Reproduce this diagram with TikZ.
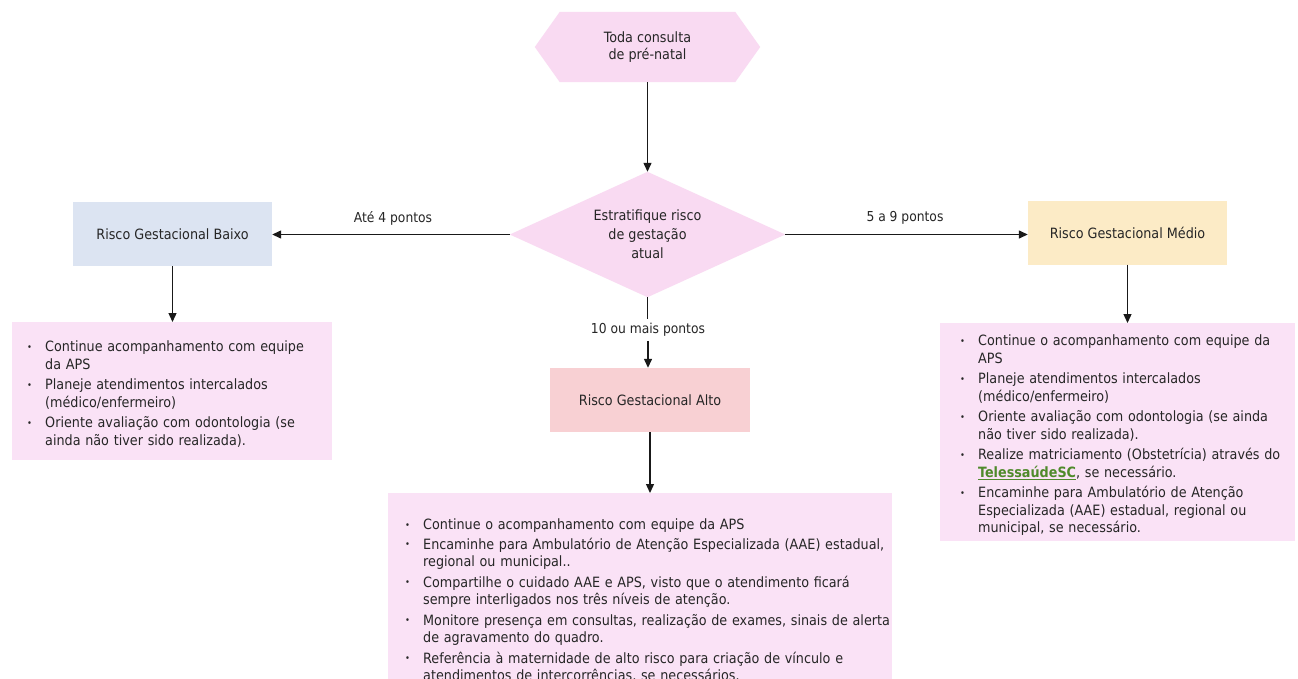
\documentclass[tikz,border=0pt]{standalone}
\usepackage{fontspec}
\usepackage{graphicx}
\setmainfont{DejaVu Sans Condensed}
\usetikzlibrary{arrows.meta,backgrounds}

\definecolor{shapepink}{HTML}{F9DAF2}
\definecolor{listpink}{HTML}{FAE2F6}
\definecolor{lowblue}{HTML}{DCE4F2}
\definecolor{midyellow}{HTML}{FCEBC6}
\definecolor{highrose}{HTML}{F8D0D3}
\definecolor{linkgreen}{HTML}{4F8A2B}

% bullet item: bullet in an 18pt column, lines broken by hand with \\
\newcommand{\bitem}[1]{\par\noindent\makebox[18pt][l]{\raisebox{1.5pt}{\scalebox{0.65}{\textbullet}}}%
  \begin{tabular}[t]{@{}l@{}}#1\end{tabular}\par}
\newcommand{\weblink}[1]{\textcolor{linkgreen}{\bfseries\underline{#1}}}

\begin{document}
\begin{tikzpicture}[x=1pt,y=-1pt,
  every node/.style={font=\fontsize{14.2}{17.5}\selectfont, text=black!85},
  riskbox/.style={rectangle, minimum width=199pt, minimum height=64pt, inner sep=0pt},
  listbox/.style={rectangle, fill=listpink, align=left, inner ysep=3pt,
    font=\fontsize{14.2}{17.5}\selectfont\setlength{\parskip}{2pt}},
  edgelabel/.style={font=\fontsize{13.7}{16}\selectfont, inner sep=4pt},
  flow/.style={line width=1.3pt, draw=black!90, -{Triangle[length=9pt,width=8pt]}},
  plainline/.style={line width=1.3pt, draw=black!90}
]
\useasboundingbox (0,0) rectangle (1298,678);

% start and decision shapes
\node[minimum width=225pt, minimum height=70pt, inner sep=0pt, align=center] (start) at (647.5,47) {Toda consulta\\de pré-natal};
\node[minimum width=275pt, minimum height=125pt, inner sep=0pt, align=center,
      font=\fontsize{14.2}{19}\selectfont] (decide) at (647.5,234.5) {Estratifique risco\\de gestação\\atual};
\begin{scope}[on background layer]
  \fill[white] (0,0) rectangle (1298,678);
  \fill[shapepink] (start.west) -- ([xshift=25pt]start.north west) -- ([xshift=-25pt]start.north east)
    -- (start.east) -- ([xshift=-25pt]start.south east) -- ([xshift=25pt]start.south west) -- cycle;
  \fill[shapepink] (decide.north) -- (decide.east) -- (decide.south) -- (decide.west) -- cycle;
\end{scope}

% risk level boxes
\node[riskbox, fill=lowblue] (low) at (172.5,234) {Risco Gestacional Baixo};
\node[riskbox, fill=midyellow] (mid) at (1127.5,232.5) {Risco Gestacional Médio};
\node[riskbox, fill=highrose, minimum width=200pt] (high) at (650,400) {Risco Gestacional Alto};

% edge labels
\node[edgelabel] (lowlbl) at (393,218) {Até 4 pontos};
\node[edgelabel] (midlbl) at (905,218) {5 a 9 pontos};
\node[edgelabel] (highlbl) at (648,330) {10 ou mais pontos};

% recommendation lists
\node[listbox, text width=290pt, inner xsep=15pt, minimum height=138pt, anchor=north west] (lowlist) at (12,322) {%
\bitem{Continue acompanhamento com equipe\\da APS}
\bitem{Planeje atendimentos intercalados\\(médico/enfermeiro)}
\bitem{Oriente avaliação com odontologia (se\\ainda não tiver sido realizada).}};

\node[listbox, text width=315pt, inner xsep=20pt, minimum height=216pt, anchor=north west] (midlist) at (940,323) {%
\bitem{Continue o acompanhamento com equipe da\\APS}
\bitem{Planeje atendimentos intercalados\\(médico/enfermeiro)}
\bitem{Oriente avaliação com odontologia (se ainda\\não tiver sido realizada).}
\bitem{Realize matriciamento (Obstetrícia) através do\\\weblink{TelessaúdeSC}, se necessário.}
\bitem{Encaminhe para Ambulatório de Atenção\\Especializada (AAE) estadual, regional ou\\municipal, se necessário.}};

\node[listbox, text width=470pt, inner xsep=17pt, minimum height=210pt, anchor=north west] (highlist) at (388,493) {%
\bitem{Continue o acompanhamento com equipe da APS}
\bitem{Encaminhe para Ambulatório de Atenção Especializada (AAE) estadual,\\regional ou municipal..}
\bitem{Compartilhe o cuidado AAE e APS, visto que o atendimento ficará\\sempre interligados nos três níveis de atenção.}
\bitem{Monitore presença em consultas, realização de exames, sinais de alerta\\de agravamento do quadro.}
\bitem{Referência à maternidade de alto risco para criação de vínculo e\\atendimentos de intercorrências, se necessários.}};

% connectors
\draw[flow] (start.south) -- (decide.north);
\draw[flow] (decide.west) -- (decide.west -| low.east);
\draw[flow] (decide.east) -- (decide.east -| mid.west);
\draw[plainline] (decide.south) -- (decide.south |- highlbl.north);
\draw[flow] (highlbl.south) -- (highlbl.south |- high.north);
\draw[flow] (low.south) -- (low.south |- lowlist.north);
\draw[flow] (mid.south) -- (mid.south |- midlist.north);
\draw[flow] (high.south) -- (high.south |- highlist.north);
\end{tikzpicture}
\end{document}
